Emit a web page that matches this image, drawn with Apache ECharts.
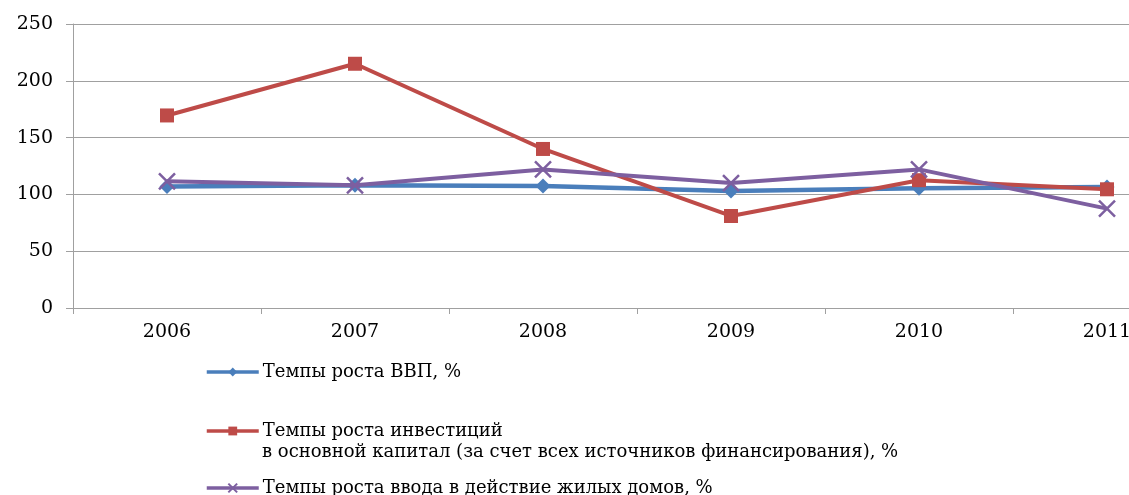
<!DOCTYPE html>
<html>
<head>
<meta charset="utf-8">
<script src="https://cdn.jsdelivr.net/npm/echarts@6/dist/echarts.min.js"></script>
<style>
    html, body { margin: 0; padding: 0; background: #fff; overflow: hidden; }
    /* график шире окна: справа он обрезан, как на исходной картинке */
    #chart { width: 1202px; height: 495px; }
</style>
</head>
<body>
<div id="chart"></div>
<script>
    // данные читаются с картинки
    let years = ['2006', '2007', '2008', '2009', '2010', '2011'];
    let gdpGrowth = [107, 108, 107.5, 103, 105.5, 106.5];
    let investGrowth = [169.5, 215, 140, 81, 112.5, 104.5];
    let housingGrowth = [111.5, 108, 122, 110, 122, 87.5];
    let yTicks = [0, 50, 100, 150, 200, 250];
    let seriesNames = [
        'Темпы роста ВВП, %',
        'Темпы роста инвестиций',
        'Темпы роста ввода в действие жилых домов, %'
    ];
    let investNameLine2 = 'в основной капитал (за счет всех источников финансирования), %';

    let font = '"DejaVu Serif", "Liberation Serif", serif';
    let gray = '#a0a0a0';
    let colors = ['#4a7ebb', '#be4b48', '#7d5fa0'];
    let crossPath = 'path://M0,0L10,10M10,0L0,10';

    let legendAt = function (name, top) {
        return {
            data: [name],
            left: 205,
            top: top,
            orient: 'vertical',
            itemWidth: 52,
            itemHeight: 11,
            itemGap: 0,
            padding: 0,
            selectedMode: false,
            lineStyle: { width: 3.5 },
            textStyle: { fontFamily: font, fontSize: 18, color: '#000', padding: [0, 0, 0, -1] }
        };
    };

    let chart = echarts.init(document.getElementById('chart'));
    let option = {
        animation: false,
        backgroundColor: '#fff',
        grid: { left: 73, top: 24, width: 1128, height: 284, containLabel: false },
        legend: [
            legendAt(seriesNames[0], 363),
            legendAt(seriesNames[1], 422),
            legendAt(seriesNames[2], 479)
        ],
        graphic: [{
            type: 'text',
            left: 262,
            top: 443,
            style: { text: investNameLine2, font: '18px ' + font, fill: '#000' }
        }],
        xAxis: {
            type: 'category',
            data: years,
            boundaryGap: true,
            axisLine: { lineStyle: { color: gray, width: 1 } },
            axisTick: { show: true, length: 6, inside: false, lineStyle: { color: gray } },
            axisLabel: { fontFamily: font, fontSize: 19, color: '#000', margin: 15 },
            splitLine: { show: false }
        },
        yAxis: {
            type: 'value',
            min: yTicks[0],
            max: yTicks[yTicks.length - 1],
            interval: yTicks[1] - yTicks[0],
            axisLine: { show: true, lineStyle: { color: gray, width: 1 } },
            axisTick: { show: true, length: 7, lineStyle: { color: gray } },
            axisLabel: { fontFamily: font, fontSize: 19, color: '#000', margin: 20 },
            splitLine: { show: true, lineStyle: { color: gray, width: 1 } }
        },
        series: [
            {
                name: seriesNames[0],
                type: 'line',
                data: gdpGrowth,
                symbol: 'diamond',
                symbolSize: 15,
                lineStyle: { color: colors[0], width: 4.5 },
                itemStyle: { color: colors[0] },
                z: 3
            },
            {
                name: seriesNames[1],
                type: 'line',
                data: investGrowth,
                symbol: 'rect',
                symbolSize: 14,
                lineStyle: { color: colors[1], width: 4 },
                itemStyle: { color: colors[1] },
                z: 4
            },
            {
                name: seriesNames[2],
                type: 'line',
                data: housingGrowth,
                symbol: crossPath,
                symbolSize: 16,
                lineStyle: { color: colors[2], width: 4 },
                itemStyle: { color: 'rgba(0,0,0,0)', borderColor: colors[2], borderWidth: 2.5 },
                z: 5
            }
        ]
    };
    option && chart.setOption(option);
</script>
</body>
</html>
